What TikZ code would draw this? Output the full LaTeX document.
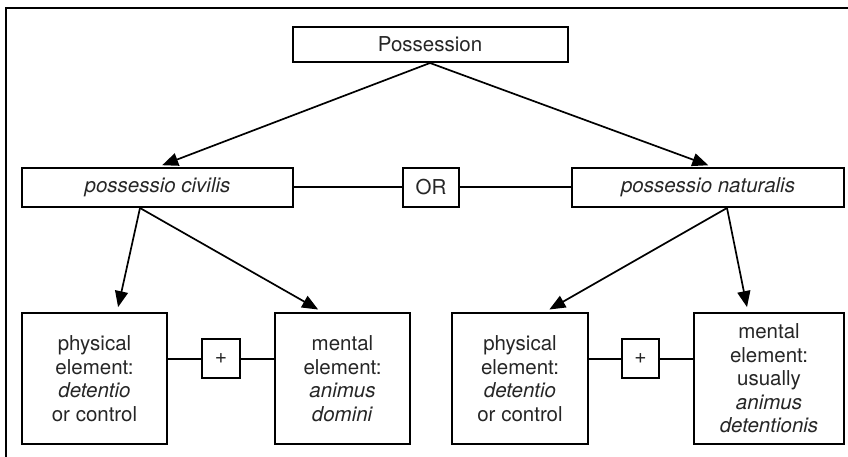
\documentclass[tikz,border=0pt]{standalone}
\usepackage{fontspec}
\setmainfont{TeX Gyre Heros}
\usetikzlibrary{arrows.meta,calc}
\tikzset{
  box/.style={draw=black, line width=2pt, rectangle, inner sep=0pt, anchor=center,
    text=black!85, align=center, font=\fontsize{20.5}{23.5}\selectfont},
  conn/.style={draw=black, line width=2pt},
  arr/.style={draw=black, line width=1.7pt, -{Triangle[length=16pt,width=13pt]}, shorten >=5pt},
  frame/.style={draw=black, line width=2.2pt}
}
\begin{document}
\begin{tikzpicture}[x=1pt,y=-1pt]
\useasboundingbox (0,0) rectangle (848,457);
\coordinate (ftr) at (848,8);
\coordinate (ftl) at (6,8);
\coordinate (fbl) at (6,457);
\draw[frame] (ftr) -- (ftl) -- (fbl);

\node[box, minimum width=275pt, minimum height=35pt] (poss) at (430,44.5) {Possession};
\node[box, minimum width=271pt, minimum height=39pt] (civ) at (157.5,187.5) {\itshape possessio civilis};
\node[box, minimum width=56pt, minimum height=39pt] (or) at (431,187.5) {OR};
\node[box, minimum width=272pt, minimum height=39pt] (nat) at (708,187.5) {\itshape possessio naturalis};

\node[box, minimum width=145pt, minimum height=131pt] (phys1) at (94.5,378.5) {physical\\element:\\\textit{detentio}\\or control};
\node[box, minimum width=38pt, minimum height=39pt, font=\fontsize{21}{23}\selectfont] (plus1) at (221,358.5) {+};
\node[box, minimum width=135pt, minimum height=131pt] (ment1) at (342.5,378.5) {mental\\element:\\\textit{animus}\\\textit{domini}};

\node[box, minimum width=136pt, minimum height=131pt] (phys2) at (520,378.5) {physical\\element:\\\textit{detentio}\\or control};
\node[box, minimum width=37pt, minimum height=39pt, font=\fontsize{21}{23}\selectfont] (plus2) at (640.5,358.5) {+};
\node[box, minimum width=150pt, minimum height=131pt] (ment2) at (769,378.5) {mental\\element:\\usually\\\textit{animus}\\\textit{detentionis}};

% connectors
\draw[conn] (civ.east) -- (or.west);
\draw[conn] (or.east) -- (nat.west);
\draw[conn] (plus1.west) -- (plus1.west -| phys1.east);
\draw[conn] (plus1.east) -- (plus1.east -| ment1.west);
\draw[conn] (plus2.west) -- (plus2.west -| phys2.east);
\draw[conn] (plus2.east) -- (plus2.east -| ment2.west);

% arrows
\coordinate (civapex) at ($(civ.south)+(-17.5,0)$);
\coordinate (natapex) at ($(nat.south)+(19,0)$);
\draw[arr] (poss.south) -- (civ.north);
\draw[arr] (poss.south) -- ($(nat.north)+(5,0)$);
\draw[arr] (civapex) -- ($(phys1.north)+(22.5,0)$);
\draw[arr] (civapex) -- ($(ment1.north)+(-20,0)$);
\draw[arr] (natapex) -- ($(phys2.north)+(25,0)$);
\draw[arr] (natapex) -- ($(ment2.north)+(-21,0)$);
\end{tikzpicture}
\end{document}
